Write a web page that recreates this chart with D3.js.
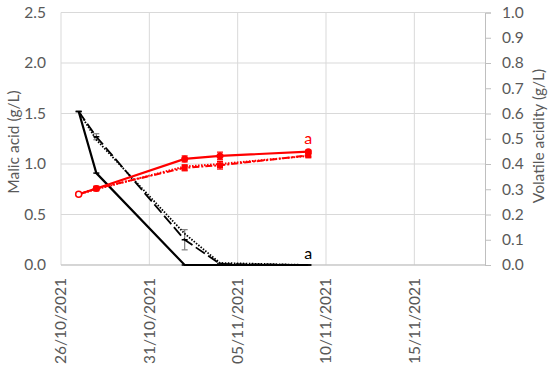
<!DOCTYPE html>
<html>
<head>
<meta charset="utf-8">
<title>Malic acid and volatile acidity</title>
<script src="https://cdn.jsdelivr.net/npm/d3@7"></script>
<style>
  body { margin: 0; background: #fff; }
  text { font-family: Lato, "Open Sans", sans-serif; fill: #595959; }
</style>
</head>
<body>
<svg id="chart" width="550" height="366"></svg>
<script>
// sampling dates
const dates = ["2021-10-27", "2021-10-28", "2021-11-02", "2021-11-04", "2021-11-09"];

// malic acid (g/L), left axis
const malicSolid  = [1.52, 0.91, 0.0, 0.0, 0.0];
const malicDashed = [1.52, 1.27, 0.25, 0.01, 0.0];
const malicDotted = [1.52, 1.24, 0.31, 0.02, 0.0];
const malicDashedErr = [0, 0.03, 0.10, 0.01, 0];

// volatile acidity (g/L), right axis
const vaSolid   = [0.28, 0.303, 0.42, 0.432, 0.449];
const vaDashDot = [0.28, 0.303, 0.385, 0.395, 0.434];
const vaDotted  = [0.28, 0.30, 0.39, 0.40, 0.432];
const vaErr     = [0, 0.005, 0.012, 0.015, 0.006];

const xTicks = ["2021-10-26", "2021-10-31", "2021-11-05", "2021-11-10", "2021-11-15"];
const leftTicks = [0, 0.5, 1.0, 1.5, 2.0, 2.5];
const rightTicks = d3.range(0, 11).map(i => i / 10);

const parse = d3.utcParse("%Y-%m-%d");
const fmt = d3.utcFormat("%d/%m/%Y");

const svg = d3.select("#chart");
const mLeft = 61, mRight = 485, mTop = 12.5, mBottom = 265;

const x = d3.scaleUtc()
  .domain([parse("2021-10-26"), parse("2021-11-19")])
  .range([mLeft, mRight]);
const yL = d3.scaleLinear().domain([0, 2.5]).range([mBottom, mTop]);
const yR = d3.scaleLinear().domain([0, 1.0]).range([mBottom, mTop]);

// grid
const grid = svg.append("g");
grid.selectAll("line.h")
  .data(leftTicks)
  .join("line")
  .attr("x1", mLeft).attr("x2", mRight)
  .attr("y1", d => yL(d)).attr("y2", d => yL(d))
  .attr("stroke", "#d9d9d9").attr("stroke-width", 1);
grid.selectAll("line.v")
  .data(xTicks.map(parse))
  .join("line")
  .attr("x1", d => x(d)).attr("x2", d => x(d))
  .attr("y1", mTop).attr("y2", mBottom)
  .attr("stroke", "#d9d9d9").attr("stroke-width", 1);

// left axis labels
svg.append("g").selectAll("text")
  .data(leftTicks)
  .join("text")
  .attr("x", mLeft - 15)
  .attr("y", d => yL(d))
  .attr("dy", "0.35em")
  .attr("text-anchor", "end")
  .attr("font-size", 15.5)
  .text(d => d.toFixed(1));

// right axis
const ra = svg.append("g")
  .attr("transform", `translate(${mRight},0)`)
  .call(d3.axisRight(yR).tickValues(rightTicks).tickSize(6).tickPadding(11).tickFormat(d3.format(".1f")));
ra.select(".domain").attr("stroke", "#bfbfbf");
ra.selectAll(".tick line").attr("stroke", "#bfbfbf");
ra.selectAll(".tick text").attr("font-size", 15.5).attr("fill", "#595959")
  .attr("font-family", "Lato, 'Open Sans', sans-serif");

// bottom axis line
svg.append("line")
  .attr("x1", mLeft).attr("x2", mRight)
  .attr("y1", mBottom).attr("y2", mBottom)
  .attr("stroke", "#bfbfbf");

// x labels rotated
svg.append("g").selectAll("text")
  .data(xTicks.map(parse))
  .join("text")
  .attr("transform", d => `translate(${x(d)},${mBottom + 13}) rotate(-90)`)
  .attr("dy", "0.35em")
  .attr("text-anchor", "end")
  .attr("font-size", 15.5)
  .text(d => fmt(d));

// axis titles
svg.append("text")
  .attr("transform", "translate(14,142) rotate(-90)")
  .attr("dy", "0.35em")
  .attr("text-anchor", "middle")
  .attr("font-size", 15.5)
  .text("Malic acid (g/L)");
svg.append("text")
  .attr("transform", "translate(539,136) rotate(-90)")
  .attr("dy", "0.35em")
  .attr("text-anchor", "middle")
  .attr("font-size", 15.5)
  .text("Volatile acidity (g/L)");

const pts = (vals, y) => vals.map((v, i) => ({ d: parse(dates[i]), v, y: y(v) }));
const line = d3.line().x(p => x(p.d)).y(p => p.y);

function errBars(g, vals, errs, y, color) {
  const data = vals.map((v, i) => ({ d: parse(dates[i]), v, e: errs[i] })).filter(p => p.e > 0);
  const eg = g.append("g").attr("stroke", color).attr("stroke-width", 1.2);
  eg.selectAll("line.bar").data(data).join("line")
    .attr("x1", p => x(p.d)).attr("x2", p => x(p.d))
    .attr("y1", p => y(p.v - p.e)).attr("y2", p => y(p.v + p.e));
  eg.selectAll("line.top").data(data).join("line")
    .attr("x1", p => x(p.d) - 3).attr("x2", p => x(p.d) + 3)
    .attr("y1", p => y(p.v + p.e)).attr("y2", p => y(p.v + p.e));
  eg.selectAll("line.bot").data(data).join("line")
    .attr("x1", p => x(p.d) - 3).attr("x2", p => x(p.d) + 3)
    .attr("y1", p => y(p.v - p.e)).attr("y2", p => y(p.v - p.e));
}

const plot = svg.append("g");

// malic acid series (black)
errBars(plot, malicDashed, malicDashedErr, yL, "#7f7f7f");
plot.append("path").datum(pts(malicDotted, yL)).attr("d", line)
  .attr("fill", "none").attr("stroke", "#000").attr("stroke-width", 1.8)
  .attr("stroke-dasharray", "1.5,1.5");
plot.append("path").datum(pts(malicDashed, yL)).attr("d", line)
  .attr("fill", "none").attr("stroke", "#000").attr("stroke-width", 1.8)
  .attr("stroke-dasharray", "11,4");
plot.append("path").datum(pts(malicSolid, yL)).attr("d", line)
  .attr("fill", "none").attr("stroke", "#000").attr("stroke-width", 2.2);
plot.append("g").selectAll("line")
  .data(pts(malicSolid, yL).concat(pts(malicDashed, yL)))
  .join("line")
  .attr("x1", p => x(p.d) - 3).attr("x2", p => x(p.d) + 3)
  .attr("y1", p => p.y).attr("y2", p => p.y)
  .attr("stroke", "#000").attr("stroke-width", 1.5);

// volatile acidity series (red)
const red = "#ff0000";
errBars(plot, vaSolid, vaErr, yR, red);
errBars(plot, vaDashDot, vaErr, yR, red);
plot.append("path").datum(pts(vaDotted, yR)).attr("d", line)
  .attr("fill", "none").attr("stroke", red).attr("stroke-width", 2)
  .attr("stroke-dasharray", "1.5,1.5");
plot.append("path").datum(pts(vaDashDot, yR)).attr("d", line)
  .attr("fill", "none").attr("stroke", red).attr("stroke-width", 2)
  .attr("stroke-dasharray", "7,2,2,2");
plot.append("path").datum(pts(vaSolid, yR)).attr("d", line)
  .attr("fill", "none").attr("stroke", red).attr("stroke-width", 2.2);

plot.append("g").selectAll("rect")
  .data(pts(vaDashDot, yR).slice(1))
  .join("rect")
  .attr("x", p => x(p.d) - 3).attr("y", p => p.y - 3)
  .attr("width", 6).attr("height", 6)
  .attr("fill", red);
plot.append("g").selectAll("circle")
  .data(pts(vaSolid, yR).slice(1))
  .join("circle")
  .attr("cx", p => x(p.d)).attr("cy", p => p.y).attr("r", 3.5)
  .attr("fill", red);
plot.append("g").selectAll("circle")
  .data(pts(vaDotted, yR).slice(0, 1))
  .join("circle")
  .attr("cx", p => x(p.d)).attr("cy", p => p.y).attr("r", 3)
  .attr("fill", "#fff").attr("stroke", red).attr("stroke-width", 1.5);

// significance letters
const last = parse(dates[dates.length - 1]);
svg.append("text")
  .attr("x", x(last)).attr("y", yR(vaSolid[4]) - 8)
  .attr("text-anchor", "middle").attr("font-size", 16)
  .style("fill", red).text("a");
svg.append("text")
  .attr("x", x(last)).attr("y", mBottom - 6)
  .attr("text-anchor", "middle").attr("font-size", 16)
  .style("fill", "#000").text("a");
</script>
</body>
</html>
